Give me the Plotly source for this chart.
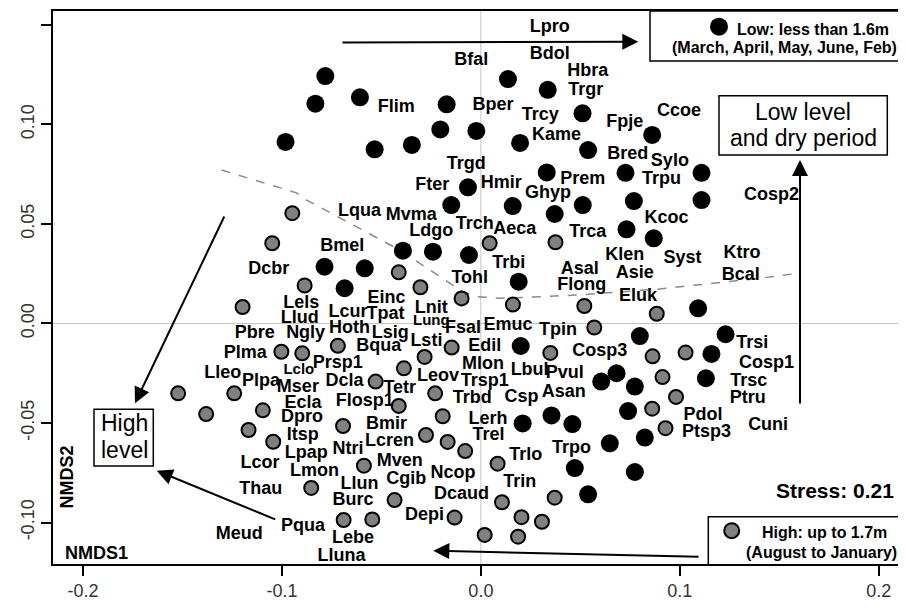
import plotly.graph_objects as go

# ---------------- data (NMDS scores) ----------------
# Low water level samples (black dots)
low_x = [-0.0982, -0.0782, -0.0832, -0.0608, -0.0172, -0.0204, -0.0023, -0.0534, -0.0347,
         0.0136, 0.0336, 0.0511, 0.0197, 0.0539, 0.0331, -0.0065, 0.0861, 0.0727, 0.1109,
         0.0769, 0.1109, -0.0149, 0.0160, 0.0371, 0.0512, 0.0732, 0.0869, -0.0392, -0.0241,
         -0.0060, -0.0786, -0.0584, -0.0685, 0.0190, 0.1092, 0.0200, 0.0799, 0.1230, 0.1159,
         0.0682, 0.0605, 0.0774, 0.1131, 0.0740, 0.0355, 0.0460, 0.0210, 0.0648, 0.0824,
         0.0472, 0.0774, 0.0539]
low_y = [0.0912, 0.1243, 0.1104, 0.1136, 0.1101, 0.0975, 0.0967, 0.0875, 0.0897,
         0.1228, 0.1174, 0.1056, 0.0907, 0.0871, 0.0759, 0.0684, 0.0947, 0.0757, 0.0757,
         0.0615, 0.0620, 0.0595, 0.0590, 0.0550, 0.0595, 0.0473, 0.0428, 0.0366, 0.0361,
         0.0344, 0.0285, 0.0277, 0.0177, 0.0210, 0.0076, -0.0113, -0.0063, -0.0054, -0.0153,
         -0.0250, -0.0292, -0.0317, -0.0275, -0.0440, -0.0462, -0.0505, -0.0502, -0.0602, -0.0573,
         -0.0726, -0.0746, -0.0858]

# High water level samples (grey dots)
high_x = [-0.0948, -0.1049, -0.0886, -0.1198, -0.1003, -0.0898, -0.1522, -0.1240, -0.1381,
          -0.1096, -0.1168, -0.1044, -0.0853, -0.0693, -0.0719, -0.0588, -0.0690, -0.0546,
          -0.0434, -0.0529, -0.0413, -0.0387, -0.0283, -0.0147, -0.0230, -0.0192, -0.0276,
          -0.0167, -0.0079, -0.0132, 0.0019, 0.0084, 0.0106, 0.0204, 0.0307, 0.0187, 0.0371,
          0.0044, 0.0375, -0.0413, -0.0304, -0.0097, 0.0161, 0.0520, 0.0570, 0.0349, 0.0884,
          0.0863, 0.1029, 0.0913, 0.0981, 0.0861, 0.0928]
high_y = [0.0554, 0.0403, 0.0191, 0.0083, -0.0142, -0.0150, -0.0351, -0.0351, -0.0455,
          -0.0436, -0.0535, -0.0594, -0.0826, -0.0515, -0.0112, -0.0714, -0.0987, -0.0984,
          -0.0887, -0.0292, -0.0414, -0.0225, -0.0168, -0.0121, -0.0351, -0.0466, -0.0560,
          -0.0595, -0.0641, -0.0975, -0.1062, -0.0704, -0.0898, -0.0973, -0.0996, -0.1071, -0.0875,
          0.0403, 0.0408, 0.0257, 0.0182, 0.0126, 0.0095, 0.0088, -0.0020, -0.0148, 0.0049,
          -0.0165, -0.0146, -0.0269, -0.0369, -0.0428, -0.0526]

# Species labels and their positions
species = ["Lpro", "Bfal", "Bdol", "Hbra", "Trgr", "Flim", "Bper", "Trcy", "Kame", "Ccoe",
           "Fpje", "Bred", "Sylo", "Trpu", "Trgd", "Fter", "Hmir", "Ghyp", "Prem", "Cosp2",
           "Lqua", "Mvma", "Ldgo", "Trch", "Aeca", "Trca", "Kcoc", "Bmel", "Trbi", "Klen",
           "Syst", "Ktro", "Tohl", "Asal", "Asie", "Bcal", "Flong", "Eluk", "Dcbr", "Einc",
           "Lels", "Lnit", "Lcur", "Tpat", "Llud", "Lung", "Emuc", "Tpin", "Pbre", "Ngly",
           "Hoth", "Lsig", "Fsal", "Lsti", "Bqua", "Edil", "Cosp3", "Trsi", "Plma", "Prsp1",
           "Mlon", "Lbul", "Pvul", "Cosp1", "Lclo", "Lleo", "Plpa", "Leov", "Dcla", "Trsp1",
           "Trsc", "Mser", "Tetr", "Asan", "Csp", "Ptru", "Trbd", "Ecla", "Flosp1", "Pdol",
           "Dpro", "Lerh", "Bmir", "Cuni", "Ptsp3", "Itsp", "Trel", "Lcren", "Trpo", "Ntri",
           "Lpap", "Trlo", "Mven", "Lcor", "Lmon", "Ncop", "Cgib", "Trin", "Llun", "Thau",
           "Dcaud", "Burc", "Depi", "Pqua", "Meud", "Lebe", "Lluna"]
species_x = [0.0346, -0.0048, 0.0346, 0.0537, 0.0527, -0.0425, 0.0061, 0.0299, 0.0380, 0.0996,
             0.0723, 0.0738, 0.0950, 0.0908, -0.0073, -0.0244, 0.0103, 0.0338, 0.0512, 0.1461,
             -0.0610, -0.0350, -0.0249, -0.0031, 0.0170, 0.0537, 0.0933, -0.0697, 0.0140, 0.0723,
             0.1013, 0.1313, -0.0056, 0.0497, 0.0774, 0.1306, 0.0507, 0.0790, -0.1066, -0.0475,
             -0.0903, -0.0249, -0.0668, -0.0479, -0.0911, -0.0249, 0.0136, 0.0388, -0.1137, -0.0881,
             -0.0660, -0.0455, -0.0090, -0.0274, -0.0513, 0.0019, 0.0598, 0.1364, -0.1185, -0.0719,
             0.0011, 0.0245, 0.0421, 0.1436, -0.0915, -0.1297, -0.1105, -0.0216, -0.0685, 0.0019,
             0.1347, -0.0920, -0.0408, 0.0416, 0.0204, 0.1342, -0.0044, -0.0894, -0.0584, 0.1117,
             -0.0899, 0.0036, -0.0475, 0.1444, 0.1134, -0.0895, 0.0038, -0.0459, 0.0455, -0.0668,
             -0.0878, 0.0225, -0.0408, -0.1110, -0.0836, -0.0140, -0.0375, 0.0195, -0.0610, -0.1107,
             -0.0098, -0.0643, -0.0283, -0.0894, -0.1215, -0.0643, -0.0701]
species_y = [0.1488, 0.1319, 0.1352, 0.1268, 0.1168, 0.1086, 0.1096, 0.1046, 0.0942, 0.1064,
             0.1009, 0.0851, 0.0813, 0.0721, 0.0800, 0.0692, 0.0704, 0.0654, 0.0721, 0.0645,
             0.0562, 0.0545, 0.0461, 0.0495, 0.0473, 0.0458, 0.0525, 0.0386, 0.0299, 0.0344,
             0.0327, 0.0353, 0.0224, 0.0269, 0.0249, 0.0239, 0.0193, 0.0135, 0.0272, 0.0127,
             0.0098, 0.0076, 0.0054, 0.0046, 0.0026, 0.0009, -0.0008, -0.0033, -0.0048, -0.0049,
             -0.0024, -0.0049, -0.0024, -0.0091, -0.0117, -0.0117, -0.0142, -0.0099, -0.0152, -0.0200,
             -0.0208, -0.0234, -0.0250, -0.0200, -0.0237, -0.0252, -0.0289, -0.0267, -0.0292, -0.0292,
             -0.0292, -0.0320, -0.0325, -0.0347, -0.0372, -0.0379, -0.0379, -0.0401, -0.0394, -0.0460,
             -0.0472, -0.0480, -0.0506, -0.0510, -0.0549, -0.0565, -0.0563, -0.0594, -0.0629, -0.0635,
             -0.0652, -0.0661, -0.0694, -0.0701, -0.0744, -0.0752, -0.0783, -0.0800, -0.0811, -0.0835,
             -0.0861, -0.0890, -0.0962, -0.1021, -0.1058, -0.1079, -0.1168]

# Dashed boundary separating the two groups
boundary_x = [-0.1304, -0.0927, -0.0876, -0.0408, -0.0157, -0.0092, -0.0021, 0.0095, 0.0261,
              0.0482, 0.0884, 0.1402, 0.1593]
boundary_y = [0.0771, 0.0656, 0.0620, 0.0369, 0.0203, 0.0160, 0.0135, 0.0127, 0.0133,
              0.0143, 0.0172, 0.0227, 0.0252]

x_tickvals = [-0.2, -0.1, 0.0, 0.1, 0.2]
x_ticktext = ["-0.2", "-0.1", "0.0", "0.1", "0.2"]
y_tickvals = [-0.10, -0.05, 0.00, 0.05, 0.10, 0.15]
y_ticktext = ["-0.10", "-0.05", "0.00", "0.05", "0.10", "0.15"]

stress_value = 0.21
low_legend = ["Low: less than 1.6m", "(March, April, May, June, Feb)"]
high_legend = ["High: up to 1.7m", "(August to January)"]

# ---------------- layout geometry ----------------
# the page body adds an 8px offset, so the figure is sized to end at the window edge
OFF = 8
W, H = 906 - OFF, 611 - OFF
ML, MR, MT, MB = 53 - OFF, 0, 11 - OFF, 47
PW, PH = W - ML - MR, H - MT - MB
X0, X1 = -0.2151, 0.2137
Y0, Y1 = -0.12081, 0.15697


def dx(px):
    """screen pixel x -> data x"""
    return X0 + (px - 53) / PW * (X1 - X0)


def dy(py):
    """screen pixel y -> data y"""
    return Y1 - (py - 11) / PH * (Y1 - Y0)


FONT = "Liberation Sans, Arial, Helvetica, sans-serif"
SMALL = {"Lung", "Lclo"}

fig = go.Figure()

# dashed boundary
fig.add_trace(go.Scatter(x=boundary_x, y=boundary_y, mode="lines",
                         line=dict(color="#8a8a8a", width=1.5, dash="dash"),
                         hoverinfo="skip", showlegend=False))

# points
fig.add_trace(go.Scatter(x=high_x, y=high_y, mode="markers",
                         marker=dict(size=14, color="#808080", line=dict(color="black", width=2)),
                         showlegend=False, name="High"))
fig.add_trace(go.Scatter(x=low_x, y=low_y, mode="markers",
                         marker=dict(size=18, color="black", line=dict(width=0)),
                         showlegend=False, name="Low"))

# species labels
fig.add_trace(go.Scatter(x=species_x, y=species_y, mode="text", text=species,
                         textposition="middle center",
                         textfont=dict(family=FONT, color="black", weight="bold",
                                       size=[15 if s in SMALL else 18 for s in species]),
                         hoverinfo="text", showlegend=False))

shapes = []
# reference lines at 0
shapes.append(dict(type="line", xref="x", yref="y", x0=0, x1=0, y0=Y0, y1=Y1,
                   line=dict(color="#c4c4c4", width=1), layer="below"))
shapes.append(dict(type="line", xref="x", yref="y", x0=X0, x1=X1, y0=0, y1=0,
                   line=dict(color="#c4c4c4", width=1), layer="below"))


def box(p0x, p0y, p1x, p1y):
    return dict(type="rect", xref="x", yref="y", x0=dx(p0x), x1=dx(p1x), y0=dy(p1y), y1=dy(p0y),
                line=dict(color="black", width=1.5), fillcolor="white", layer="above")


shapes.append(box(650, 11, 910, 61))        # low legend
shapes.append(box(708.3, 516.7, 910, 566))  # high legend
shapes.append(box(719, 95.7, 887.3, 155))   # low level text box
shapes.append(box(94, 409.3, 153.3, 466))   # high level text box


def circ(cx, cy, r, fill, lw):
    return dict(type="circle", xref="x", yref="y", x0=dx(cx - r), x1=dx(cx + r),
                y0=dy(cy + r), y1=dy(cy - r), fillcolor=fill,
                line=dict(color="black", width=lw), layer="above")


shapes.append(circ(719, 26.7, 9, "black", 0))
shapes.append(circ(731.7, 530.7, 7.5, "#808080", 2))

annotations = []


def txt(text, px, py, size, bold=True, xanchor="center", angle=0):
    annotations.append(dict(text=text, x=dx(px), y=dy(py), xref="x", yref="y",
                            showarrow=False, xanchor=xanchor, yanchor="middle",
                            textangle=angle,
                            font=dict(family=FONT, size=size, color="black",
                                      weight="bold" if bold else "normal")))


txt(low_legend[0], 735, 29, 16, xanchor="left")
txt(low_legend[1], 784, 47.7, 16)
txt(high_legend[0], 824, 532.7, 16)
txt(high_legend[1], 821.7, 552.3, 16)
txt("Low level", 803.3, 111.7, 23, bold=False)
txt("and dry period", 803.3, 138.3, 23, bold=False)
txt("High", 124, 423.3, 23, bold=False)
txt("level", 124, 450, 23, bold=False)
txt(f"Stress: {stress_value:.2f}", 835, 490, 21)
txt("NMDS1", 96.7, 552.7, 18)
txt("NMDS2", 66.7, 476.7, 18, angle=-90)


def arrow(tx, ty, hx, hy):
    annotations.append(dict(text="", x=dx(hx), y=dy(hy), ax=dx(tx), ay=dy(ty),
                            xref="x", yref="y", axref="x", ayref="y",
                            showarrow=True, arrowhead=2, arrowsize=1.6, arrowwidth=2,
                            arrowcolor="black", standoff=0, startstandoff=0))


arrow(341, 42.5, 638.3, 41.7)     # Lpro arrow
arrow(225, 215, 135, 403.3)       # down-left arrow
arrow(276.7, 520, 156.7, 470.7)   # Pqua -> High level
arrow(700, 556.7, 433.3, 550.7)   # bottom arrow
arrow(800, 405, 800, 160)         # vertical arrow to Low level

fig.update_layout(
    width=W, height=H,
    margin=dict(l=ML, r=MR, t=MT, b=MB, pad=0),
    paper_bgcolor="white", plot_bgcolor="white",
    shapes=shapes, annotations=annotations,
    showlegend=False,
    xaxis=dict(range=[X0, X1], tickvals=x_tickvals, ticktext=x_ticktext,
               ticks="outside", ticklen=10, tickwidth=1.5, tickcolor="black",
               showline=True, linewidth=1.5, linecolor="black", mirror=True,
               showgrid=False, zeroline=False,
               tickfont=dict(family=FONT, size=18, color="#333333")),
    yaxis=dict(range=[Y0, Y1], tickvals=y_tickvals, ticktext=y_ticktext,
               ticks="outside", ticklen=10, tickwidth=1.5, tickcolor="black",
               showline=True, linewidth=1.5, linecolor="black", mirror=False,
               showgrid=False, zeroline=False, tickangle=-90,
               tickfont=dict(family=FONT, size=18, color="#333333")),
)

fig.write_html("out.html")
